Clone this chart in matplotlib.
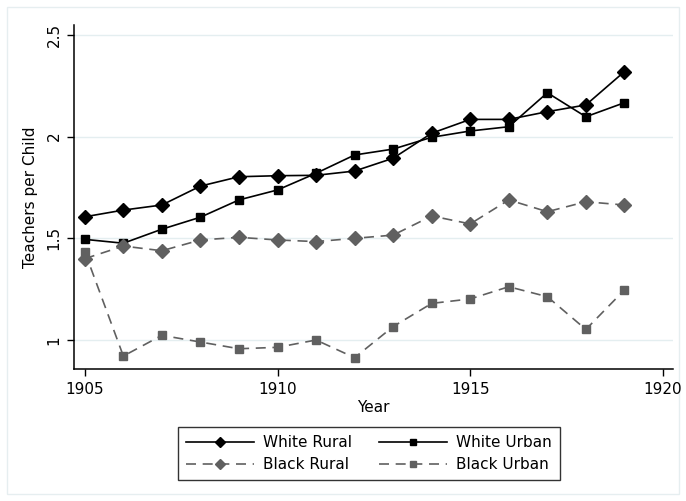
import matplotlib.pyplot as plt
from matplotlib.patches import Rectangle

years = list(range(1905, 1920))

white_rural = [1.606, 1.639, 1.664, 1.757, 1.803, 1.808, 1.810, 1.831, 1.894,
               2.017, 2.085, 2.085, 2.123, 2.156, 2.320]
white_urban = [1.495, 1.476, 1.545, 1.604, 1.689, 1.738, 1.820, 1.910, 1.939,
               1.997, 2.028, 2.049, 2.216, 2.098, 2.167]
black_rural = [1.400, 1.462, 1.439, 1.492, 1.505, 1.492, 1.484, 1.500, 1.516,
               1.610, 1.571, 1.689, 1.631, 1.680, 1.664]
black_urban = [1.434, 0.921, 1.023, 0.990, 0.957, 0.964, 1.000, 0.913, 1.066,
               1.180, 1.202, 1.262, 1.213, 1.052, 1.246]

xticks = [1905, 1910, 1915, 1920]
yticks = [1, 1.5, 2, 2.5]
ytick_labels = ['1', '1.5', '2', '2.5']

plt.rcParams['font.family'] = 'DejaVu Sans'

fig = plt.figure(figsize=(6.86, 5.01), dpi=100)
ax = fig.add_axes([0.1079, 0.2629, 0.981 - 0.1079, 0.950 - 0.2629])

# faint outline of the graph region, kept behind everything else
fig.patches.append(Rectangle((7 / 686, 7 / 501), 672 / 686, 487 / 501,
                             transform=fig.transFigure, fill=False,
                             edgecolor='#e6eef0', linewidth=1, zorder=-1))

gray = '#606060'
l1, = ax.plot(years, white_rural, color='black', lw=1.2, marker='D', ms=7.5,
              label='White Rural')
l2, = ax.plot(years, white_urban, color='black', lw=1.2, marker='s', ms=6,
              label='White Urban')
l3, = ax.plot(years, black_rural, color=gray, lw=1.2, ls=(0, (6, 4)),
              marker='D', ms=7.5, label='Black Rural')
l4, = ax.plot(years, black_urban, color=gray, lw=1.2, ls=(0, (6, 4)),
              marker='s', ms=6, label='Black Urban')

ax.set_xlim(1904.72, 1920.26)
ax.set_ylim(0.856, 2.549)
ax.set_xticks(xticks)
ax.set_yticks(yticks)
ax.set_yticklabels(ytick_labels, rotation=90, va='center')
ax.tick_params(axis='both', direction='out', length=5, width=1,
               labelsize=11, pad=4)
ax.yaxis.grid(True, color='#e4eef0', lw=1)
ax.set_axisbelow(True)
for side in ['top', 'right']:
    ax.spines[side].set_visible(False)
for side in ['left', 'bottom']:
    ax.spines[side].set_linewidth(1.1)

ax.set_xlabel('Year', fontsize=11, labelpad=2)
ax.set_ylabel('Teachers per Child', fontsize=11, labelpad=6)

leg = fig.legend([l1, l3, l2, l4],
                 ['White Rural', 'Black Rural', 'White Urban', 'Black Urban'],
                 ncol=2, loc='center', bbox_to_anchor=(369 / 686, 1 - 453.5 / 501),
                 fontsize=11, handlelength=4.4, frameon=True, fancybox=False,
                 edgecolor='black', columnspacing=1.8, labelspacing=0.45,
                 borderpad=0.55, handletextpad=0.6, markerscale=0.65)
leg.get_frame().set_linewidth(1)

fig.savefig('out.png', dpi=100)
